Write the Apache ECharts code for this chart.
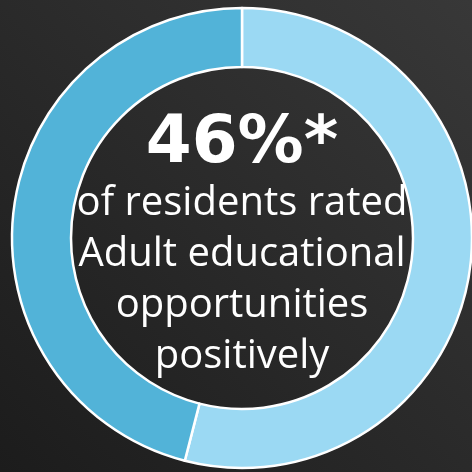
<!DOCTYPE html>
<html><head><meta charset="utf-8">
<script src="https://cdn.jsdelivr.net/npm/echarts@6/dist/echarts.min.js"></script>
<style>html,body{margin:0;padding:0;background:#2a2a2a}#c{width:472px;height:472px}</style>
</head><body><div id="c"></div>
<script>
const categories = ['Other', 'Rated positively'];
const values = [54, 46];
const colors = ['#9bd9f3', '#52b3d8'];
const headline = '46%*';
const bodyLines = ['of residents rated', 'Adult educational', 'opportunities', 'positively'];

const chart = echarts.init(document.getElementById('c'), null, {renderer: 'canvas'});
const FONT = 'Open Sans';
chart.setOption({
  backgroundColor: new echarts.graphic.LinearGradient(1, 0, 0, 1, [
    {offset: 0, color: '#383838'},
    {offset: 1, color: '#1c1c1c'}
  ]),
  animation: false,
  series: [{
    type: 'pie',
    center: [242, 238],
    radius: [171, 230],
    startAngle: 90,
    clockwise: true,
    label: {show: false},
    labelLine: {show: false},
    itemStyle: {borderColor: '#ffffff', borderWidth: 2.5},
    emphasis: {disabled: true},
    data: categories.map((c, i) => ({name: c, value: values[i], itemStyle: {color: colors[i]}}))
  }],
  graphic: [
    {type: 'text', x: 242, y: 145, style: {text: headline, fill: '#fff', font: 'bold 66px "DejaVu Sans"', align: 'center', verticalAlign: 'middle'}},
  ].concat(bodyLines.map((t, i) => ({
    type: 'text', x: 242, y: 204 + i * 51, style: {text: t, fill: '#fff', font: '40px "' + FONT + '"', align: 'center', verticalAlign: 'middle'}
  })))
});
</script></body></html>
